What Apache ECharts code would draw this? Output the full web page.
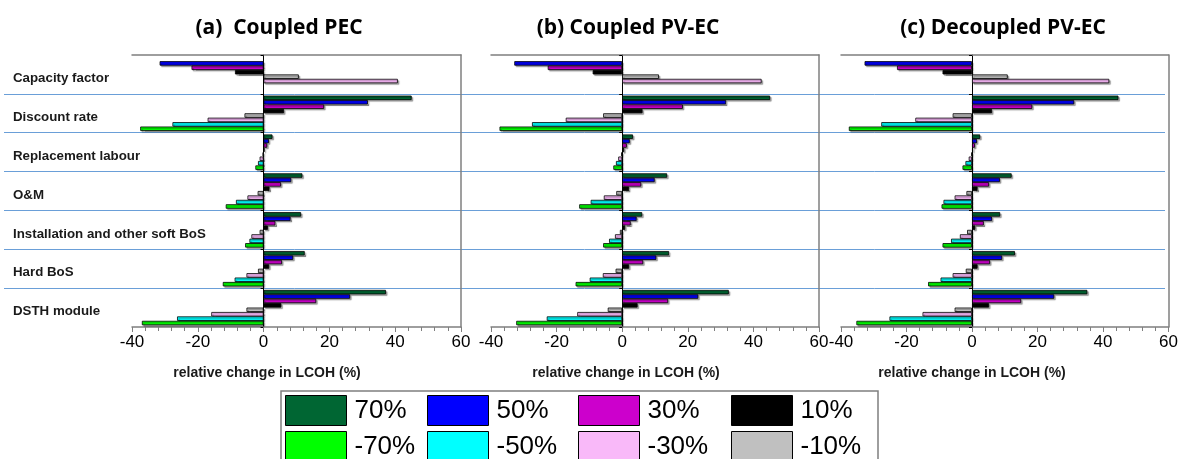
<!DOCTYPE html>
<html>
<head>
<meta charset="utf-8">
<script src="https://cdn.jsdelivr.net/npm/echarts@6/dist/echarts.min.js"></script>
<style>html,body{margin:0;padding:0;background:#fff;}#c{width:1181px;height:459px;}</style>
</head>
<body>
<div id="c"></div>
<script>
// Categories, top to bottom
const categories = ['Capacity factor', 'Discount rate', 'Replacement labour', 'O&M',
  'Installation and other soft BoS', 'Hard BoS', 'DSTH module'];
// Series (parameter change), in order top to bottom within a category
const seriesNames = ['70%', '50%', '30%', '10%', '-10%', '-30%', '-50%', '-70%'];
const seriesColors = ['#006633', '#0000ff', '#cc00cc', '#000000', '#c0c0c0', '#f9b9f9', '#00ffff', '#00ff00'];
const xTicks = [-40, -20, 0, 20, 40, 60];
const panelTitles = ['(a)  Coupled PEC', '(b) Coupled PV-EC', '(c) Decoupled PV-EC'];

// relative change in LCOH (%) — one row per series, one column per category
const coupledPEC = [
  [null, 45.0, 2.7, 11.8, 11.4, 12.5, 37.2],
  [-31.6, 31.7, 1.6, 8.4, 8.2, 9.0, 26.3],
  [-21.9, 18.4, 1.1, 5.3, 3.6, 5.6, 16.0],
  [-8.7, 6.2, 0.3, 1.8, 1.3, 1.7, 5.4],
  [10.7, -5.8, -0.3, -1.8, -1.2, -1.7, -5.2],
  [40.8, -17.0, -1.2, -4.9, -3.7, -5.2, -15.9],
  [null, -27.7, -1.7, -8.4, -4.3, -8.8, -26.3],
  [null, -37.5, -2.5, -11.5, -5.6, -12.4, -37.0]
];
const coupledPVEC = [
  [null, 45.1, 3.3, 13.7, 6.1, 14.3, 32.5],
  [-32.9, 31.7, 2.3, 9.9, 4.4, 10.4, 23.2],
  [-22.7, 18.5, 1.4, 5.8, 2.6, 6.4, 14.0],
  [-9.0, 6.2, 0.6, 2.1, 0.9, 2.1, 4.7],
  [11.2, -5.8, -0.3, -1.8, -0.7, -2.0, -4.4],
  [42.5, -17.2, -1.2, -5.6, -2.2, -5.9, -13.7],
  [null, -27.5, -1.9, -9.6, -4.0, -9.9, -23.0],
  [null, -37.4, -2.7, -13.1, -5.8, -14.2, -32.3]
];
const decoupledPVEC = [
  [null, 44.7, 2.5, 12.1, 8.6, 13.1, 35.2],
  [-32.8, 31.2, 1.5, 8.5, 6.1, 9.2, 25.1],
  [-22.9, 18.4, 0.9, 5.2, 3.6, 5.5, 15.0],
  [-9.0, 6.1, 0.3, 1.7, 1.0, 1.7, 5.2],
  [10.9, -5.9, -0.2, -1.7, -1.5, -1.9, -5.3],
  [41.9, -17.3, -1.0, -5.3, -3.7, -5.9, -15.1],
  [null, -27.7, -2.0, -8.7, -6.4, -9.6, -25.2],
  [null, -37.6, -2.9, -9.3, -9.0, -13.4, -35.3]
];
const panels = [coupledPEC, coupledPVEC, decoupledPVEC];

const chart = echarts.init(document.getElementById('c'), null, {renderer: 'canvas'});

const gridTop = 55, gridH = 272;
const panelLeft = [132, 491, 841];
const panelWidth = [329, 328, 329];

// grid 0: full-width separator lines; grid 1: category labels (nudged down slightly)
const grids = [
  {left: 4, top: gridTop, width: 1161, height: gridH},
  {left: 4, top: gridTop + 4, width: 1161, height: gridH}
];
const xAxes = [
  {gridIndex: 0, type: 'value', min: 0, max: 1, show: false},
  {gridIndex: 1, type: 'value', min: 0, max: 1, show: false}
];
const yAxes = [{
  gridIndex: 0, type: 'category', data: categories, inverse: true,
  axisLine: {show: false}, axisTick: {show: false}, axisLabel: {show: false},
  splitLine: {show: true, showMinLine: false, showMaxLine: false, lineStyle: {color: '#6a9fd8', width: 1}}
}, {
  gridIndex: 1, type: 'category', data: categories, inverse: true,
  axisLine: {show: false}, axisTick: {show: false}, splitLine: {show: false},
  axisLabel: {inside: true, margin: 9, fontFamily: 'Liberation Sans', fontWeight: 'bold',
    fontSize: 13.3, color: '#1a1a1a'}
}];
const series = [];
const graphics = [];

for (let p = 0; p < 3; p++) {
  const g = grids.length;
  grids.push({left: panelLeft[p], top: gridTop, width: panelWidth[p], height: gridH});
  const mainX = xAxes.length;
  xAxes.push({
    gridIndex: g, type: 'value', min: xTicks[0], max: xTicks[xTicks.length - 1], interval: 20,
    axisLine: {show: true, onZero: false, lineStyle: {color: '#7f7f7f', width: 1.5}},
    axisTick: {show: true, length: 5, lineStyle: {color: '#7f7f7f'}},
    minorTick: {show: true, splitNumber: 5, length: 4, lineStyle: {color: '#7f7f7f'}},
    splitLine: {show: false},
    axisLabel: {fontFamily: 'Liberation Sans', fontSize: 17, color: '#000', margin: 7}
  });
  // frame-only axis at the top (range excludes zero so it is never an onZero target)
  xAxes.push({
    gridIndex: g, type: 'value', position: 'top', min: 1, max: 2,
    axisLine: {show: true, onZero: false, lineStyle: {color: '#7f7f7f', width: 1.5}},
    axisTick: {show: false}, axisLabel: {show: false}, splitLine: {show: false}
  });
  const mainY = yAxes.length;
  yAxes.push({
    gridIndex: g, type: 'category', data: categories, inverse: true,
    axisLine: {show: true, onZero: true, lineStyle: {color: '#000', width: 1}},
    axisTick: {show: true, length: 3, lineStyle: {color: '#000'}},
    axisLabel: {show: false},
    splitLine: {show: false}
  });
  // frame-only axis at the right
  yAxes.push({
    gridIndex: g, type: 'value', position: 'right', min: 1, max: 2,
    axisLine: {show: true, onZero: false, lineStyle: {color: '#7f7f7f', width: 1.5}},
    axisTick: {show: false}, axisLabel: {show: false}, splitLine: {show: false}
  });
  panels[p].forEach((vals, k) => {
    series.push({
      type: 'bar', name: seriesNames[k], xAxisIndex: mainX, yAxisIndex: mainY,
      data: vals, barGap: '0%', barCategoryGap: '9%',
      itemStyle: {color: seriesColors[k], borderColor: '#000', borderWidth: 0.8,
        shadowColor: 'rgba(0,0,0,0.35)', shadowBlur: 1, shadowOffsetX: 1.5, shadowOffsetY: 1.5},
      emphasis: {disabled: true}, animation: false
    });
  });
}

const titleX = [279, 628, 1003];
const nameX = [267, 626, 972];
for (let p = 0; p < 3; p++) {
  graphics.push({type: 'text', x: titleX[p], y: 28,
    style: {text: panelTitles[p], fontFamily: 'Open Sans', fontWeight: 'bold', fontSize: 21,
      fill: '#000', align: 'center', verticalAlign: 'middle'}});
  graphics.push({type: 'text', x: nameX[p], y: 373,
    style: {text: 'relative change in LCOH (%)', fontFamily: 'Liberation Sans', fontWeight: 'bold',
      fontSize: 14, fill: '#1a1a1a', align: 'center', verticalAlign: 'middle'}});
}
graphics.push({type: 'rect', z: -1, shape: {x: 281, y: 391, width: 597, height: 80},
  style: {fill: '#fff', stroke: '#7f7f7f', lineWidth: 1.5}});

const legendCols = [[0, 7], [1, 6], [2, 5], [3, 4]];
const legendLeft = [285, 427, 578, 731];
const legends = legendCols.map((pair, i) => ({
  orient: 'vertical', left: legendLeft[i], top: 395, height: 100, padding: 0,
  itemWidth: 61, itemHeight: 30, itemGap: 5, selectedMode: false, icon: 'rect',
  data: pair.map(k => seriesNames[k]),
  itemStyle: {borderColor: '#000', borderWidth: 1, shadowColor: 'transparent', shadowBlur: 0,
    shadowOffsetX: 0, shadowOffsetY: 0},
  textStyle: {fontFamily: 'Liberation Sans', fontSize: 26, color: '#000', padding: [0, 0, 0, 3]}
}));

chart.setOption({
  animation: false,
  grid: grids, xAxis: xAxes, yAxis: yAxes, series: series,
  legend: legends, graphic: graphics
});
</script>
</body>
</html>
